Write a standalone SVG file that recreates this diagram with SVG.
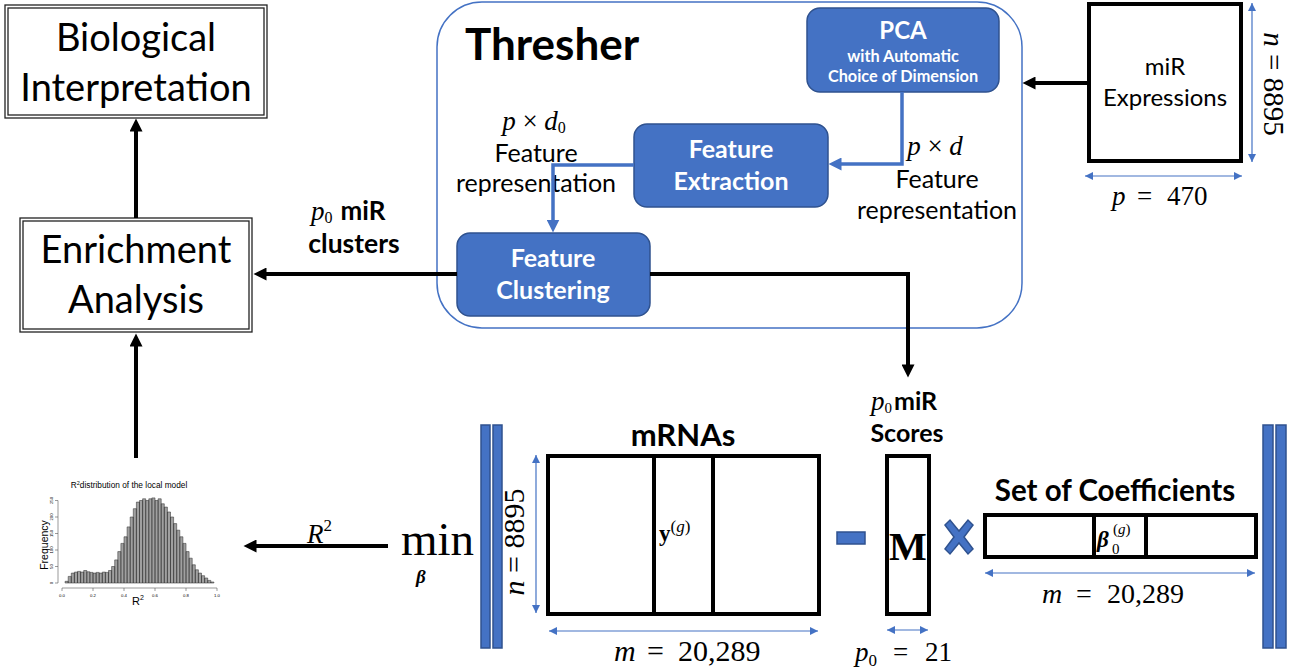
<svg xmlns="http://www.w3.org/2000/svg" width="1294" height="672" viewBox="0 0 1294 672">
<style>
.sans{font-family:Lato,"Liberation Sans",sans-serif;}
.b{font-weight:bold;}
.serif{font-family:"Liberation Serif","DejaVu Serif",serif;}
.it{font-style:italic;}
.blk{fill:#000;}
.wt{fill:#fff;}
.bluebox{fill:#4472C4;stroke:#2F528F;stroke-width:1.5;}
.mat{fill:#fff;stroke:#000;stroke-width:4;}
.dbl{fill:#fff;stroke:#222;stroke-width:1.3;}
.arrow{fill:none;stroke:#000;stroke-width:4;marker-end:url(#ah);}
.barrow{fill:none;stroke:#4472C4;stroke-width:3.5;marker-end:url(#bh);}
.dim{fill:none;stroke:#4472C4;stroke-width:1.2;marker-start:url(#dh);marker-end:url(#dh);}
.hl{font-family:"Liberation Sans",Arial,sans-serif;fill:#000;}
</style>
<defs>
<marker id="ah" viewBox="0 0 10 10" refX="5" refY="5" markerWidth="14" markerHeight="13" markerUnits="userSpaceOnUse" orient="auto"><path d="M0,0 L10,5 L0,10 z" fill="#000"/></marker>
<marker id="bh" viewBox="0 0 10 10" refX="5" refY="5" markerWidth="13" markerHeight="13" markerUnits="userSpaceOnUse" orient="auto"><path d="M0,0 L10,5 L0,10 z" fill="#4472C4"/></marker>
<marker id="dh" viewBox="0 0 10 10" refX="10" refY="5" markerWidth="9" markerHeight="8" markerUnits="userSpaceOnUse" orient="auto-start-reverse"><path d="M0,0 L10,5 L0,10 z" fill="#4472C4"/></marker>
</defs>

<g id="thresher">
<rect x="437" y="2" width="585" height="326" rx="45" ry="45" fill="none" stroke="#4472C4" stroke-width="1.5"/>
<text x="465" y="60" class="sans b blk" font-size="44">Thresher</text>
</g>

<g id="bio">
<rect x="5" y="5" width="262" height="113" class="dbl"/>
<rect x="8" y="8" width="256" height="107" class="dbl"/>
<text x="136" y="51" class="sans blk" font-size="38" text-anchor="middle">Biological</text>
<text x="136" y="101" class="sans blk" font-size="38" text-anchor="middle">Interpretation</text>
</g>

<g id="enrichment">
<rect x="20" y="218" width="232" height="114" class="dbl"/>
<rect x="23" y="221" width="226" height="108" class="dbl"/>
<text x="136" y="263" class="sans blk" font-size="38" text-anchor="middle">Enrichment</text>
<text x="136" y="313" class="sans blk" font-size="38" text-anchor="middle">Analysis</text>
</g>

<g id="pca">
<rect x="807" y="8" width="192" height="84" rx="13" class="bluebox"/>
<text x="903" y="39" class="sans b wt" font-size="24" text-anchor="middle">PCA</text>
<text x="903" y="62" class="sans b wt" font-size="16.3" text-anchor="middle">with Automatic</text>
<text x="903" y="82" class="sans b wt" font-size="16.3" text-anchor="middle">Choice of Dimension</text>
</g>

<g id="feature-extraction">
<rect x="634" y="124" width="194" height="83" rx="13" class="bluebox"/>
<text x="731" y="158" class="sans b wt" font-size="25" text-anchor="middle">Feature</text>
<text x="731" y="190" class="sans b wt" font-size="25" text-anchor="middle">Extraction</text>
</g>

<g id="feature-clustering">
<rect x="457" y="233" width="193" height="83" rx="13" class="bluebox"/>
<text x="553" y="267" class="sans b wt" font-size="25" text-anchor="middle">Feature</text>
<text x="553" y="299" class="sans b wt" font-size="25" text-anchor="middle">Clustering</text>
</g>

<g id="label-pd0">
<text x="534" y="130" class="serif blk" font-size="27" text-anchor="middle"><tspan class="it">p</tspan> × <tspan class="it">d</tspan><tspan font-size="16" dy="3">0</tspan></text>
<text x="536" y="162" class="sans blk" font-size="25" text-anchor="middle">Feature</text>
<text x="536" y="192" class="sans blk" font-size="25" text-anchor="middle">representation</text>
</g>

<g id="label-pd">
<text x="935" y="155" class="serif blk" font-size="27" text-anchor="middle"><tspan class="it">p</tspan> × <tspan class="it">d</tspan></text>
<text x="937" y="188" class="sans blk" font-size="25" text-anchor="middle">Feature</text>
<text x="937" y="219" class="sans blk" font-size="25" text-anchor="middle">representation</text>
</g>

<g id="mir-expressions">
<rect x="1089" y="4" width="152" height="157" class="mat"/>
<text x="1165" y="75" class="sans blk" font-size="24" text-anchor="middle">miR</text>
<text x="1165" y="106" class="sans blk" font-size="24" text-anchor="middle">Expressions</text>
<text transform="translate(1264,84) rotate(90)" class="serif blk" font-size="29" text-anchor="middle"><tspan class="it">n</tspan> = 8895</text>
<text x="1112" y="205" class="serif blk" font-size="27"><tspan class="it">p</tspan><tspan x="1137">=</tspan><tspan x="1167">470</tspan></text>
</g>

<g id="clusters-label">
<text x="311" y="220" class="blk" font-size="26"><tspan class="serif it" font-size="27">p</tspan><tspan class="serif" font-size="16" dy="3">0</tspan><tspan class="sans b" dy="-3" dx="8">miR</tspan></text>
<text x="354" y="253" class="sans b blk" font-size="26.5" text-anchor="middle">clusters</text>
</g>

<g id="histogram">
<text x="129" y="488" class="hl" font-size="8.3" text-anchor="middle">R<tspan font-size="5.5" dy="-3">2</tspan><tspan dy="3">distribution of the local model</tspan></text>
<path fill="#a0a0a0" stroke="#333" stroke-width="0.55" d="M65.1,583V581.3H68.2V583ZM68.2,583V576.4H71.3V583ZM71.3,583V573.1H74.4V583ZM74.4,583V572.1H77.5V583ZM77.5,583V571.4H80.6V583ZM80.6,583V572.1H83.7V583ZM83.7,583V570.5H86.8V583ZM86.8,583V571.8H89.9V583ZM89.9,583V572.4H93V583ZM93,583V573.1H96.1V583ZM96.1,583V572.4H99.2V583ZM99.2,583V573.1H102.3V583ZM102.3,583V572.1H105.4V583ZM105.4,583V572.4H108.5V583ZM108.5,583V570.5H111.6V583ZM111.6,583V566.5H114.7V583ZM114.7,583V559.9H117.8V583ZM117.8,583V551.6H120.9V583ZM120.9,583V543.4H124V583ZM124,583V536.8H127.1V583ZM127.1,583V526.9H130.2V583ZM130.2,583V517H133.3V583ZM133.3,583V508.7H136.4V583ZM136.4,583V502.1H139.5V583ZM139.5,583V500.5H142.6V583ZM142.6,583V498.8H145.7V583ZM145.7,583V500.5H148.8V583ZM148.8,583V498.8H151.9V583ZM151.9,583V497.9H155V583ZM155,583V500.5H158.1V583ZM158.1,583V498.8H161.2V583ZM161.2,583V503.8H164.3V583ZM164.3,583V507.1H167.4V583ZM167.4,583V512H170.5V583ZM170.5,583V517H173.6V583ZM173.6,583V523.6H176.7V583ZM176.7,583V530.2H179.8V583ZM179.8,583V536.8H182.9V583ZM182.9,583V543.4H186V583ZM186,583V551.6H189.1V583ZM189.1,583V558.2H192.2V583ZM192.2,583V564.8H195.3V583ZM195.3,583V569.8H198.4V583ZM198.4,583V573.1H201.5V583ZM201.5,583V575.7H204.6V583ZM204.6,583V578H207.7V583ZM207.7,583V580.4H210.8V583ZM210.8,583V582H213.9V583Z"/>
<path fill="none" stroke="#555" stroke-width="0.6" d="M58,583V500.5M58,583h-3M58,566.5h-3M58,550h-3M58,533.5h-3M58,517h-3M58,500.5h-3M62,588H217M62,588v3M93,588v3M124,588v3M155,588v3M186,588v3M217,588v3"/>
<g class="hl" font-size="4.3" text-anchor="middle">
<text transform="translate(53,583) rotate(-90)">0</text>
<text transform="translate(53,566.5) rotate(-90)">50</text>
<text transform="translate(53,550) rotate(-90)">100</text>
<text transform="translate(53,533.5) rotate(-90)">150</text>
<text transform="translate(53,517) rotate(-90)">200</text>
<text transform="translate(53,500.5) rotate(-90)">250</text>
<text x="62" y="597">0.0</text>
<text x="93" y="597">0.2</text>
<text x="124" y="597">0.4</text>
<text x="155" y="597">0.6</text>
<text x="186" y="597">0.8</text>
<text x="217" y="597">1.0</text>
</g>
<text transform="translate(48,545) rotate(-90)" class="hl" font-size="10.5" text-anchor="middle">Frequency</text>
<text x="138" y="605" class="hl" font-size="11" text-anchor="middle">R<tspan font-size="7" dy="-5">2</tspan></text>
</g>

<g id="r2-label">
<text x="307" y="543" class="serif blk" font-size="27"><tspan class="it">R</tspan><tspan font-size="17" dy="-12">2</tspan></text>
</g>

<g id="min-label">
<text x="401" y="555" class="serif blk" font-size="47">min</text>
<text x="416" y="583" class="serif it b blk" font-size="19">β</text>
</g>

<g id="norm-bars">
<rect x="481" y="425" width="9" height="223" class="bluebox"/>
<rect x="493" y="425" width="9" height="223" class="bluebox"/>
<rect x="1263" y="425" width="10" height="223" class="bluebox"/>
<rect x="1276" y="425" width="10" height="223" class="bluebox"/>
</g>

<g id="mrnas">
<text x="683" y="446" class="sans b blk" font-size="31" text-anchor="middle">mRNAs</text>
<rect x="548" y="456" width="271" height="158" class="mat"/>
<line x1="654" y1="456" x2="654" y2="614" stroke="#000" stroke-width="4"/>
<line x1="713" y1="456" x2="713" y2="614" stroke="#000" stroke-width="4"/>
<text x="659" y="541" class="serif blk" font-size="23"><tspan class="b">y</tspan><tspan font-size="17" dy="-9">(<tspan class="it">g</tspan>)</tspan></text>
<text transform="translate(524,542) rotate(-90)" class="serif blk" font-size="30" text-anchor="middle"><tspan class="it">n</tspan> = 8895</text>
<text x="614" y="661" class="serif blk" font-size="30"><tspan class="it">m</tspan><tspan x="647">=</tspan><tspan x="678">20,289</tspan></text>
</g>

<g id="minus">
<rect x="837" y="532" width="28" height="12" class="bluebox"/>
</g>

<g id="scores">
<text x="871" y="410" class="blk" font-size="25"><tspan class="serif it" font-size="27">p</tspan><tspan class="serif" font-size="15" dy="3">0</tspan><tspan class="sans b" dy="-3" dx="2">miR</tspan></text>
<text x="907" y="442" class="sans b blk" font-size="25" text-anchor="middle">Scores</text>
<rect x="887" y="456" width="42" height="158" class="mat"/>
<text x="908" y="560" class="serif b blk" font-size="40" text-anchor="middle">M</text>
<text x="855" y="661" class="serif blk" font-size="27"><tspan class="it">p</tspan><tspan font-size="17" dy="5">0</tspan><tspan x="893" dy="-5">=</tspan><tspan x="925">21</tspan></text>
</g>

<g id="times">
<path class="bluebox" d="M945,525 L950,520 L959,531 L968,520 L973,525 L964,537 L973,549 L968,554 L959,543 L950,554 L945,549 L954,537 Z"/>
</g>

<g id="coefficients">
<text x="1115" y="501" class="sans b blk" font-size="29.5" text-anchor="middle">Set of Coefficients</text>
<rect x="985" y="515" width="271" height="42" class="mat"/>
<line x1="1094" y1="515" x2="1094" y2="557" stroke="#000" stroke-width="4"/>
<line x1="1146" y1="515" x2="1146" y2="557" stroke="#000" stroke-width="4"/>
<text x="1097" y="547" class="serif it b blk" font-size="23">β</text>
<text x="1112" y="554" class="serif blk" font-size="15">0</text>
<text x="1113" y="534" class="serif blk" font-size="15">(<tspan class="it">g</tspan>)</text>
<text x="1042" y="603" class="serif blk" font-size="28"><tspan class="it">m</tspan><tspan x="1076">=</tspan><tspan x="1107">20,289</tspan></text>
</g>

<g id="connectors">
<line x1="136" y1="218" x2="136" y2="125" class="arrow"/>
<line x1="136" y1="458" x2="136" y2="340" class="arrow"/>
<line x1="457" y1="274" x2="260" y2="274" class="arrow"/>
<line x1="388" y1="546" x2="250" y2="546" class="arrow"/>
<line x1="1089" y1="83" x2="1029" y2="83" class="arrow"/>
<polyline points="650,274 908,274 908,371" class="arrow"/>
<polyline points="902,92 902,164 835,164" class="barrow"/>
<polyline points="634,165 553,165 553,226" class="barrow"/>
<line x1="1252" y1="3" x2="1252" y2="162" class="dim"/>
<line x1="1085" y1="176" x2="1242" y2="176" class="dim"/>
<line x1="536" y1="455" x2="536" y2="613" class="dim"/>
<line x1="549" y1="631" x2="818" y2="631" class="dim"/>
<line x1="887" y1="630" x2="928" y2="630" class="dim"/>
<line x1="985" y1="573" x2="1255" y2="573" class="dim"/>
</g>
</svg>
